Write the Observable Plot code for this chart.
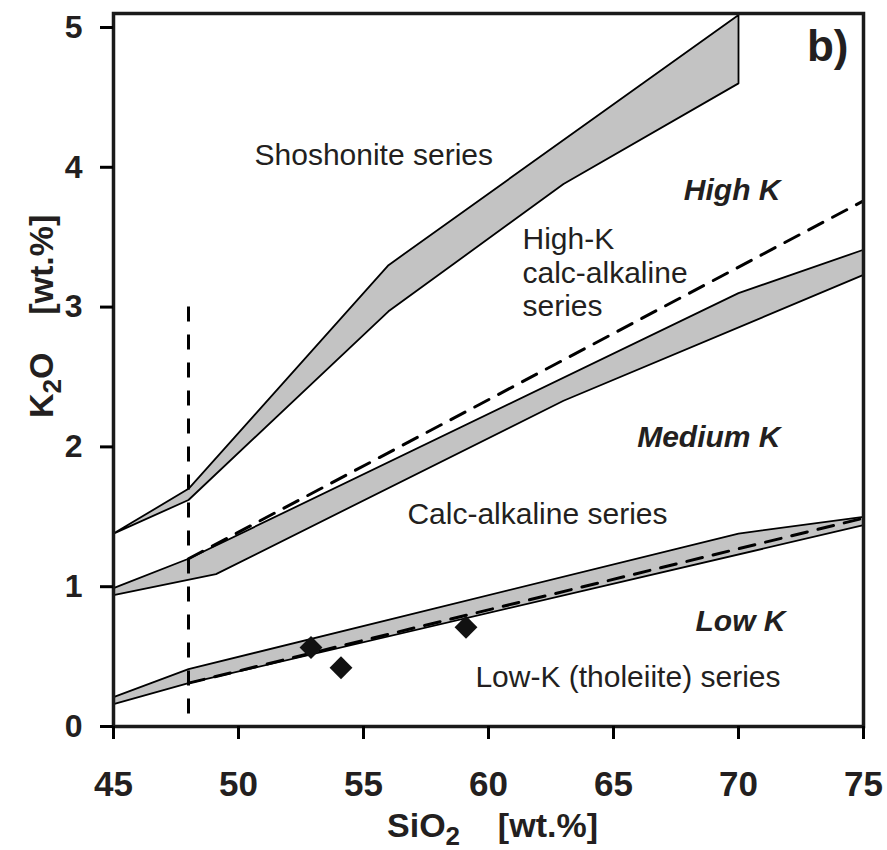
<!DOCTYPE html>
<html><head><meta charset="utf-8">
<script src="https://cdn.jsdelivr.net/npm/d3@7"></script>
<script src="https://cdn.jsdelivr.net/npm/@observablehq/plot@0.6"></script>
<style>body{margin:0;background:#fff}</style>
</head><body><div id="chart"></div>
<script>
// ---- data ----
const xTicks = [45, 50, 55, 60, 65, 70, 75];
const yTicks = [0, 1, 2, 3, 4, 5];

// Shoshonite / High-K calc-alkaline boundary band
const shoUpperX = [45, 48, 56, 70];
const shoUpperY = [1.38, 1.70, 3.30, 5.09];
const shoLowerX = [45, 48, 56, 63, 70];
const shoLowerY = [1.38, 1.62, 2.97, 3.88, 4.60];

// High-K / calc-alkaline boundary band
const hkUpperX = [45, 48, 70, 75];
const hkUpperY = [0.99, 1.20, 3.10, 3.41];
const hkLowerX = [45, 49.1, 63, 75];
const hkLowerY = [0.94, 1.09, 2.33, 3.23];

// calc-alkaline / low-K boundary band
const lkUpperX = [45, 48, 70, 75];
const lkUpperY = [0.21, 0.41, 1.38, 1.50];
const lkLowerX = [45, 48, 75];
const lkLowerY = [0.16, 0.31, 1.44];

// dashed boundaries
const dashHighX = [48, 75];
const dashHighY = [1.20, 3.76];
const dashLowX = [48, 75];
const dashLowY = [0.31, 1.49];
const basaltX = [48];
const basaltTop = 3.0;

// samples
const sampleSiO2 = [52.9, 54.1, 59.1];
const sampleK2O = [0.565, 0.42, 0.71];

// series labels
const startLabels = ["Shoshonite series", "High-K\ncalc-alkaline\nseries"];
const startLabelX = [50.64, 61.36];
const startLabelY = [4.013, 2.933];
const endLabels = ["Calc-alkaline series", "Low-K (tholeiite) series"];
const endLabelX = [67.16, 71.68];
const endLabelY = [1.452, 0.279];
const fieldLabels = ["High K", "Medium K", "Low K"];
const fieldX = [71.68, 71.68, 71.88];
const fieldY = [3.763, 2.0, 0.68];

// ---- build tables ----
function band(name, lx, ly, ux, uy) {
  const pts = lx.map((x, i) => ({band: name, x, y: ly[i]}));
  for (let i = ux.length - 1; i >= 0; i--) pts.push({band: name, x: ux[i], y: uy[i]});
  return pts;
}
const bands = [
  ...band("sho", shoLowerX, shoLowerY, shoUpperX, shoUpperY),
  ...band("hk", hkLowerX, hkLowerY, hkUpperX, hkUpperY),
  ...band("lk", lkLowerX, lkLowerY, lkUpperX, lkUpperY)
];
const dashes = [
  ...dashHighX.map((x, i) => ({id: "h", x, y: dashHighY[i]})),
  ...dashLowX.map((x, i) => ({id: "l", x, y: dashLowY[i]}))
];
const samples = sampleSiO2.map((x, i) => ({x, y: sampleK2O[i]}));
const mk = (t, xs, ys) => t.map((text, i) => ({text, x: xs[i], y: ys[i]}));

const textColor = "#231f20";
const font = "Liberation Sans, Arial, Helvetica, sans-serif";

const fig = Plot.plot({
  width: 887,
  height: 850,
  marginLeft: 113,
  marginRight: 24,
  marginTop: 13,
  marginBottom: 124,
  x: {domain: [45, 75]},
  y: {domain: [0, 5.1]},
  style: {fontFamily: font, background: "white", color: "black"},
  marks: [
    Plot.line(bands, {x: "x", y: "y", z: "band", fill: "#c3c3c3", stroke: "black", strokeWidth: 1.8, strokeLinejoin: "miter"}),
    Plot.line(dashes, {x: "x", y: "y", z: "id", stroke: "black", strokeWidth: 3, strokeDasharray: "16,11"}),
    Plot.ruleX(basaltX, {y1: basaltTop, y2: 0, stroke: "black", strokeWidth: 3, strokeDasharray: "15,13"}),
    Plot.dot(samples, {x: "x", y: "y", symbol: "diamond2", r: 10.3, fill: "#111", stroke: "none"}),
    Plot.text(mk(startLabels, startLabelX, startLabelY), {x: "x", y: "y", text: "text", textAnchor: "start", lineAnchor: "bottom", lineHeight: 1.12, fontSize: 30, fill: textColor}),
    Plot.text(mk(endLabels, endLabelX, endLabelY), {x: "x", y: "y", text: "text", textAnchor: "end", lineAnchor: "bottom", fontSize: 30, fill: textColor}),
    Plot.text(mk(fieldLabels, fieldX, fieldY), {x: "x", y: "y", text: "text", textAnchor: "end", lineAnchor: "bottom", fontSize: 30, fontWeight: "bold", fontStyle: "italic", fill: textColor}),
    Plot.text(["b)"], {x: 74.4, y: 4.757, text: d => d, textAnchor: "end", lineAnchor: "bottom", fontSize: 44, fontWeight: "bold", fill: textColor}),
    Plot.frame({stroke: "#1a1a1a", strokeWidth: 3.5}),
    Plot.axisX(xTicks, {anchor: "bottom", tickSize: 13, tickPadding: 32, tickFormat: "d", fontSize: 35, fontWeight: "bold", strokeWidth: 3, label: null, fill: textColor}),
    Plot.axisY(yTicks, {anchor: "left", tickSize: 13, tickPadding: 18, tickFormat: "d", fontSize: 32, fontWeight: "bold", strokeWidth: 3, label: null, fill: textColor})
  ]
});
document.getElementById("chart").appendChild(fig);

// axis titles with true subscripts
const svg = d3.select(fig);
const xs = fig.scale("x"), ys = fig.scale("y");
function title(g, before, sub, after) {
  const t = g.append("text")
    .attr("text-anchor", "middle")
    .attr("font-family", font)
    .attr("font-weight", "bold")
    .attr("font-size", 34)
    .attr("fill", textColor)
    .style("white-space", "pre");
  t.append("tspan").text(before);
  t.append("tspan").attr("font-size", 26).attr("dy", 8).text(sub);
  t.append("tspan").attr("dy", -8).text(after);
}
const gx = svg.append("g").attr("transform", `translate(${xs.apply(60.18)},837)`);
title(gx, "SiO", "2", "    [wt.%]");
const gy = svg.append("g").attr("transform", `translate(53,${ys.apply(2.93)}) rotate(-90)`);
title(gy, "K", "2", "O    [wt.%]");
</script>
</body></html>
